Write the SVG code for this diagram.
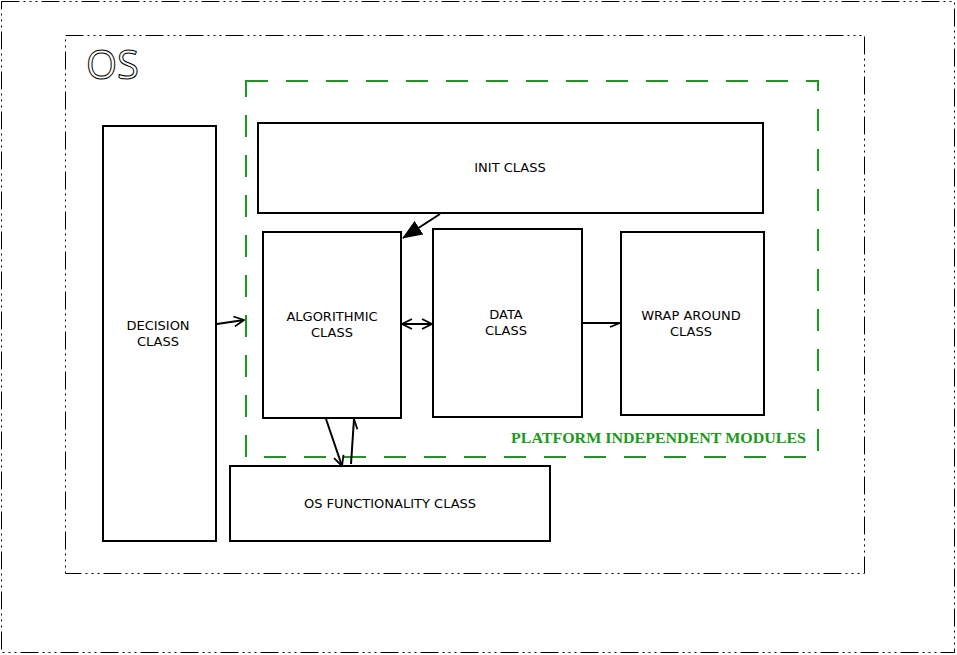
<svg xmlns="http://www.w3.org/2000/svg" width="957" height="655" viewBox="0 0 957 655">
<defs>
<style>
.frame{fill:none;stroke:#000;stroke-width:1;stroke-dasharray:18 4 2 4 2 4 2 4}
.box{fill:#fff;stroke:#000;stroke-width:2}
.lbl{font-family:"DejaVu Sans",sans-serif;font-size:13px;fill:#000;text-anchor:middle}
.conn{stroke:#000;stroke-width:2;fill:none}
</style>
<marker id="open" viewBox="0 0 12 12" refX="11" refY="6" markerWidth="12" markerHeight="12" markerUnits="userSpaceOnUse" orient="auto-start-reverse">
<path d="M1,1 L11,6 L1,11" fill="none" stroke="#000" stroke-width="1.8"/>
</marker>
<marker id="half" viewBox="0 0 12 12" refX="11" refY="6" markerWidth="12" markerHeight="12" markerUnits="userSpaceOnUse" orient="auto">
<path d="M11,6 L1,10" fill="none" stroke="#000" stroke-width="1.8"/>
</marker>
<marker id="fill" viewBox="0 0 20 16" refX="19" refY="8" markerWidth="20" markerHeight="16" markerUnits="userSpaceOnUse" orient="auto">
<path d="M0,0 L20,8 L0,16 Z" fill="#000"/>
</marker>
</defs>
<rect width="957" height="655" fill="#fff"/>
<rect class="frame" x="1.5" y="1.5" width="953" height="651"/>
<g id="os">
<rect class="frame" x="65.5" y="35.5" width="799" height="538"/>
<text x="86" y="79" font-family="'Open Sans','DejaVu Sans',sans-serif" font-size="40" fill="#fff" stroke="#000" stroke-width="1">OS</text>
</g>
<g id="platform">
<rect x="246" y="81" width="572" height="376" fill="none" stroke="#1a9a1a" stroke-width="2" stroke-dasharray="22 18"/>
<text x="511" y="443" font-family="'Liberation Serif',serif" font-weight="bold" font-size="15" fill="#1a9a1a" textLength="295" lengthAdjust="spacingAndGlyphs">PLATFORM INDEPENDENT MODULES</text>
</g>
<g id="init">
<rect class="box" x="258" y="123" width="505" height="90"/>
<text class="lbl" x="510" y="172">INIT CLASS</text>
</g>
<g id="algorithmic">
<rect class="box" x="263" y="232" width="138" height="186"/>
<text class="lbl" x="332" y="321">ALGORITHMIC</text>
<text class="lbl" x="332" y="337">CLASS</text>
</g>
<g id="data">
<rect class="box" x="433" y="229" width="149" height="188"/>
<text class="lbl" x="506" y="319">DATA</text>
<text class="lbl" x="506" y="335">CLASS</text>
</g>
<g id="wrap">
<rect class="box" x="621" y="232" width="143" height="183"/>
<text class="lbl" x="691" y="320">WRAP AROUND</text>
<text class="lbl" x="691" y="336">CLASS</text>
</g>
<g id="decision">
<rect class="box" x="103" y="126" width="113" height="415"/>
<text class="lbl" x="158" y="330">DECISION</text>
<text class="lbl" x="158" y="346">CLASS</text>
</g>
<g id="osfunc">
<rect class="box" x="230" y="466" width="320" height="75"/>
<text class="lbl" x="390" y="508">OS FUNCTIONALITY CLASS</text>
</g>
<g id="connectors">
<line class="conn" x1="440" y1="214" x2="403" y2="238" marker-end="url(#fill)"/>
<line class="conn" x1="217" y1="324" x2="244" y2="320" marker-end="url(#open)"/>
<line class="conn" x1="402" y1="324" x2="432" y2="324" marker-start="url(#open)" marker-end="url(#open)"/>
<line class="conn" x1="583" y1="323" x2="620" y2="323" marker-end="url(#half)"/>
<line class="conn" x1="326" y1="419" x2="342" y2="466" marker-end="url(#open)"/>
<line class="conn" x1="351" y1="464" x2="354" y2="419" marker-end="url(#half)"/>
</g>
</svg>
